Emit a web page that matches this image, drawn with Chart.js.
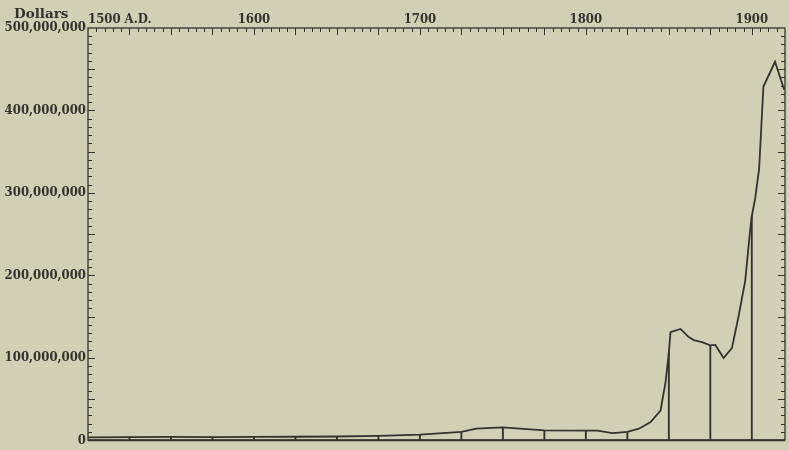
<!DOCTYPE html>
<html>
<head>
<meta charset="utf-8">
<title>World gold production, 1500 - 1920</title>
<script src="https://cdn.jsdelivr.net/npm/chart.js@4/dist/chart.umd.min.js"></script>
<style>
    html, body { margin: 0; padding: 0; background: #d0d0b4; }
    #wrap { width: 789px; height: 450px; position: relative; }
</style>
</head>
<body>
<div id="wrap"><canvas id="gold-chart"></canvas></div>
<script>
// Years of the plotted points
const years = [1500, 1525, 1550, 1575, 1600, 1625, 1650, 1675, 1700, 1725, 1734, 1750,
    1775, 1800, 1807, 1816, 1825, 1832, 1839, 1845, 1848, 1850, 1851, 1857, 1862, 1865,
    1870, 1875, 1878, 1883, 1888, 1892, 1896, 1899, 1900, 1902, 1904.4, 1907, 1914, 1919.5];

// Yearly output in millions of dollars
const millions = [3.5, 3.8, 4.0, 3.8, 4.0, 4.2, 4.5, 5.2, 6.8, 10, 14, 15.5,
    12, 11.6, 11.6, 8.7, 10, 14, 22, 36, 70, 106, 131, 135, 125, 121.5,
    119, 115, 115.6, 99.6, 111.6, 150, 193, 255, 272, 293, 329, 429, 459, 425];

// Axis labels
const yearLabels = [1500, 1600, 1700, 1800, 1900];
const firstYearLabel = '1500 A.D.';
const valueTitle = 'Dollars';

const ink = '#33332e';
const labelFont = { family: '"DejaVu Serif Condensed", "DejaVu Serif"', weight: 'bold', size: 13 };

document.addEventListener('DOMContentLoaded', () => {
    // Points for the curve, and the 25-year drop lines
    const curve = years.map((y, i) => ({ x: y, y: millions[i] * 1e6 }));
    const drops = curve.filter(p => p.x > 1500 && p.x % 25 === 0);

    // Ruler ticks, frame and the "Dollars" caption
    const rulerPlugin = {
        id: 'ruler',
        afterDraw(chart) {
            const { ctx, chartArea: a, scales: { x, y } } = chart;
            ctx.save();
            ctx.strokeStyle = ink;

            // frame
            ctx.lineWidth = 1.3;
            ctx.strokeRect(a.left, a.top, a.right - a.left, a.bottom - a.top);
            ctx.lineWidth = 2;
            ctx.beginPath();
            ctx.moveTo(a.left, a.bottom);
            ctx.lineTo(a.right, a.bottom);
            ctx.stroke();

            // top ruler, every 5 years
            ctx.lineWidth = 1;
            ctx.beginPath();
            for (let yr = 1505; yr < x.max; yr += 5) {
                const px = Math.round(x.getPixelForValue(yr)) + 0.5;
                const len = yr % 25 === 0 ? 7 : 4;
                ctx.moveTo(px, a.top);
                ctx.lineTo(px, a.top + len);
            }
            // side rulers, every 10 million
            for (let v = 10e6; v < y.max; v += 10e6) {
                const py = Math.round(y.getPixelForValue(v)) + 0.5;
                const len = v % 50e6 === 0 ? 7 : 4;
                ctx.moveTo(a.left, py);
                ctx.lineTo(a.left + len, py);
                ctx.moveTo(a.right, py);
                ctx.lineTo(a.right - len, py);
            }
            ctx.stroke();

            // caption
            ctx.fillStyle = ink;
            ctx.font = 'bold 13.5px "DejaVu Serif"';
            ctx.textBaseline = 'alphabetic';
            ctx.textAlign = 'left';
            ctx.fillText(valueTitle, 14, 18);
            ctx.restore();
        }
    };

    const ctx = document.getElementById('gold-chart').getContext('2d');
    new Chart(ctx, {
        type: 'line',
        data: {
            datasets: [{
                data: curve,
                borderColor: ink,
                borderWidth: 1.8,
                pointRadius: 0,
                tension: 0,
                fill: false
            }, {
                type: 'bar',
                data: drops,
                backgroundColor: ink,
                barThickness: 1.2,
                borderWidth: 0
            }]
        },
        options: {
            responsive: true,
            maintainAspectRatio: false,
            animation: false,
            layout: { padding: { top: 0, right: 4, bottom: 5, left: 0 } },
            plugins: {
                legend: { display: false },
                tooltip: { enabled: false }
            },
            scales: {
                x: {
                    type: 'linear',
                    position: 'top',
                    min: 1500,
                    max: 1920,
                    offset: false,
                    afterFit: s => { s.height = 28; },
                    // labelled centuries plus an empty tick at the right edge
                    afterBuildTicks: s => {
                        s.ticks = yearLabels.concat([s.max]).map(v => ({ value: v }));
                    },
                    grid: { display: false, drawTicks: false },
                    border: { display: false },
                    ticks: {
                        align: 'inner',
                        padding: 1,
                        maxRotation: 0,
                        autoSkip: false,
                        color: ink,
                        font: labelFont,
                        callback: v => v === 1500 ? firstYearLabel : (yearLabels.includes(v) ? String(v) : '')
                    }
                },
                y: {
                    min: 0,
                    max: 500e6,
                    afterFit: s => { s.width = 88; },
                    grid: { display: false, drawTicks: false },
                    border: { display: false },
                    ticks: {
                        stepSize: 100e6,
                        padding: 2,
                        color: ink,
                        font: labelFont,
                        callback: v => v.toLocaleString('en-US')
                    }
                }
            }
        },
        plugins: [rulerPlugin]
    });
});
</script>
</body>
</html>
